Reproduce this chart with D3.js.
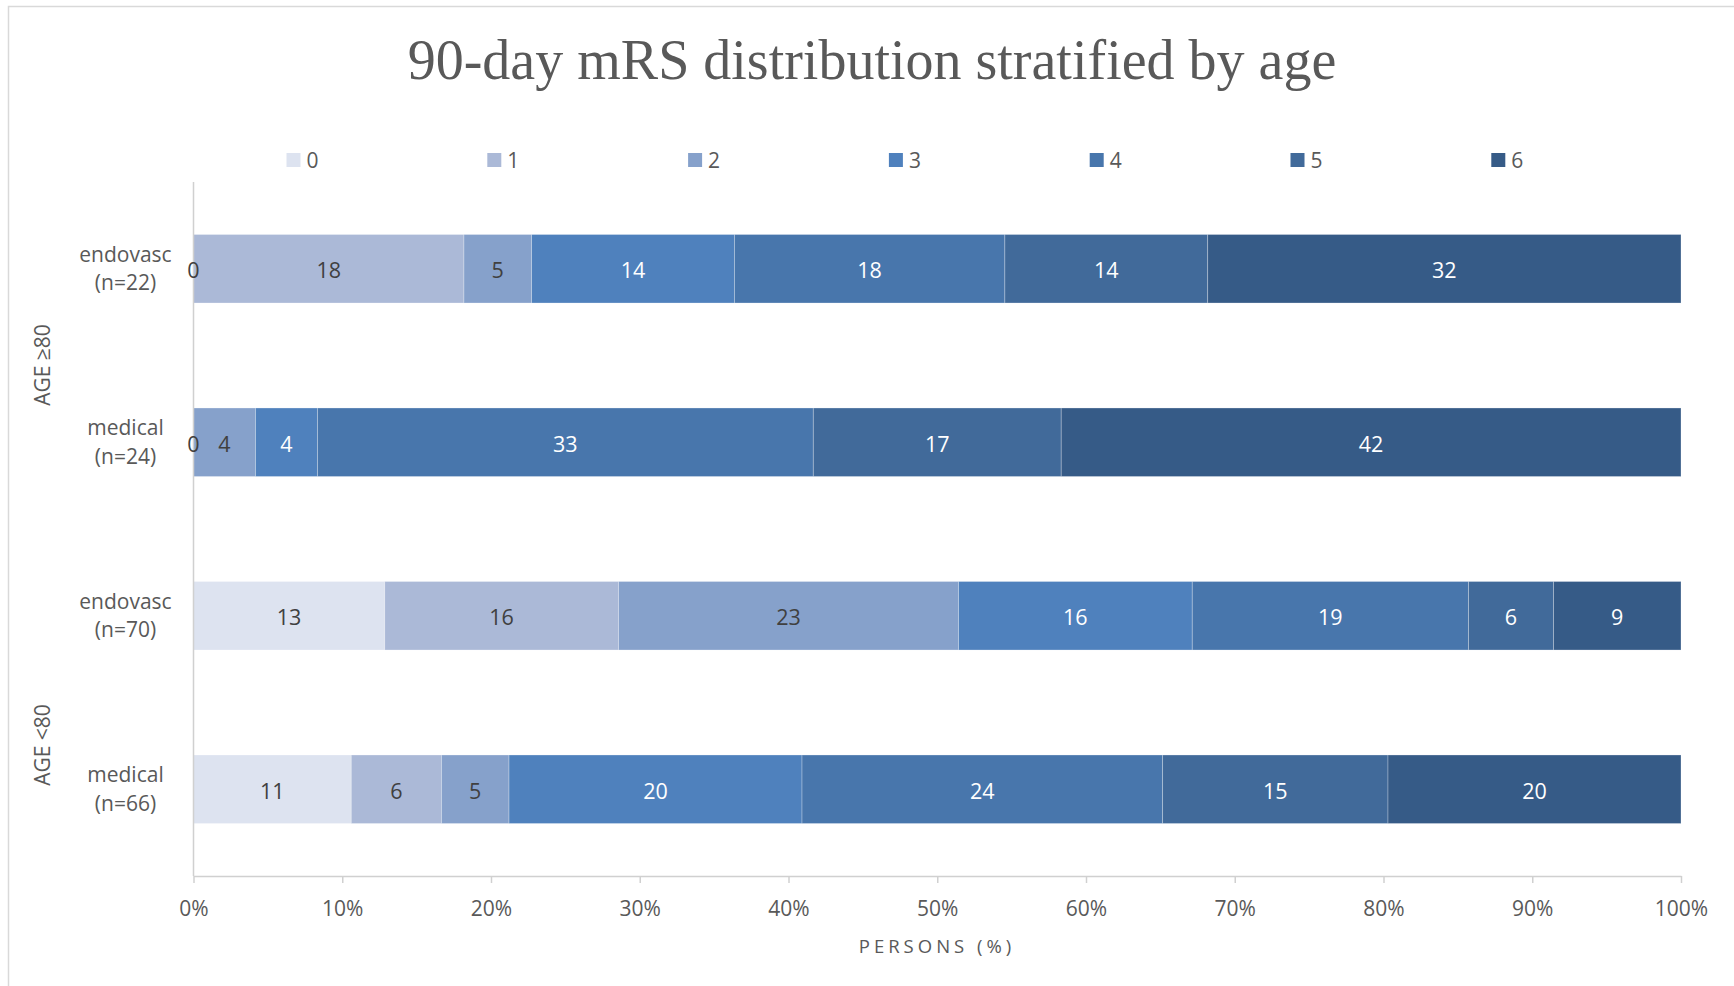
<!DOCTYPE html>
<html>
<head>
<meta charset="utf-8">
<script src="https://cdn.jsdelivr.net/npm/d3@7/dist/d3.min.js"></script>
<style>
  html, body { margin: 0; padding: 0; background: #ffffff; }
  svg { display: block; }
  text { font-family: "Open Sans", "Noto Sans", sans-serif; }
</style>
</head>
<body>
<svg id="chart" width="1734" height="986"></svg>
<script>
// 90-day modified Rankin Scale outcomes, patient counts per treatment arm
const groups = ["AGE ≥80", "AGE <80"];
const arms = ["endovasc", "medical", "endovasc", "medical"];
const armN = [22, 24, 70, 66];
const armGroup = [0, 0, 1, 1];
const mrsLevels = ["0", "1", "2", "3", "4", "5", "6"];

const count0 = [0, 0, 9, 7];
const count1 = [4, 0, 11, 4];
const count2 = [1, 1, 16, 3];
const count3 = [3, 1, 11, 13];
const count4 = [4, 8, 13, 16];
const count5 = [3, 4, 4, 10];
const count6 = [7, 10, 6, 13];

const xTicks = [0, 0.1, 0.2, 0.3, 0.4, 0.5, 0.6, 0.7, 0.8, 0.9, 1.0];

const mrsColors = ["#dde3f0", "#abb9d7", "#86a1cb", "#4f81bd", "#4876ac", "#416a9a", "#365b87"];
const darkLabel = [true, true, true, false, false, false, false];

const counts = [count0, count1, count2, count3, count4, count5, count6];
const rowKeys = arms.map((a, i) => "r" + i);
const table = rowKeys.map((k, i) => {
  const o = { key: k, n: armN[i] };
  mrsLevels.forEach((m, j) => { o[m] = counts[j][i]; });
  return o;
});

const svg = d3.select("#chart");
const textGray = "#595959";
const axisGray = "#d0d0d0";

// outer chart frame
svg.append("rect")
  .attr("x", 8.5).attr("y", 6.5)
  .attr("width", 1800).attr("height", 1100)
  .attr("fill", "none").attr("stroke", "#d9d9d9").attr("stroke-width", 1.5);

// title
svg.append("text")
  .attr("x", 872).attr("y", 79)
  .attr("text-anchor", "middle")
  .style("font-family", "'Liberation Serif', 'DejaVu Serif', serif")
  .style("font-size", "56px")
  .attr("fill", textGray)
  .text("90-day mRS distribution stratified by age");

// legend
const legend = svg.append("g");
mrsLevels.forEach((m, i) => {
  const lx = 286.5 + i * 200.8;
  legend.append("rect")
    .attr("x", lx).attr("y", 153).attr("width", 14).attr("height", 14)
    .attr("fill", mrsColors[i]);
  legend.append("text")
    .attr("x", lx + 20).attr("y", 167.5)
    .style("font-size", "21px")
    .attr("fill", textGray)
    .text(m);
});

// scales
const plotLeft = 193.5, plotRight = 1681, plotTop = 182, plotBottom = 876;
const x = d3.scaleLinear().domain([0, 1]).range([plotLeft, plotRight]);
const y = d3.scaleBand().domain(rowKeys).range([plotTop, plotBottom])
  .paddingInner(0.605).paddingOuter(0.3025);

const stack = d3.stack().keys(mrsLevels).offset(d3.stackOffsetExpand);
const series = stack(table);

// bars
const barG = svg.append("g");
series.forEach((s, si) => {
  barG.selectAll(null)
    .data(s)
    .join("rect")
    .attr("x", d => x(d[0]))
    .attr("y", d => y(d.data.key))
    .attr("width", d => Math.max(0, x(d[1]) - x(d[0])))
    .attr("height", y.bandwidth())
    .attr("fill", mrsColors[si])
    .attr("stroke", "rgba(255,255,255,0.35)")
    .attr("stroke-width", 0.8);
});

// x axis
const xAxis = d3.axisBottom(x)
  .tickValues(xTicks)
  .tickFormat(d3.format(".0%"))
  .tickSizeOuter(0)
  .tickSizeInner(7)
  .tickPadding(18);
const axG = svg.append("g")
  .attr("transform", `translate(0,${plotBottom})`)
  .call(xAxis);
axG.select(".domain").attr("stroke", axisGray).attr("stroke-width", 1.5);
axG.selectAll(".tick line").attr("stroke", axisGray).attr("stroke-width", 1.5);
axG.selectAll(".tick text")
  .attr("fill", textGray)
  .style("font-family", "'Open Sans', sans-serif")
  .style("font-size", "21px");

// vertical category axis line
svg.append("line")
  .attr("x1", plotLeft).attr("x2", plotLeft)
  .attr("y1", plotTop).attr("y2", plotBottom)
  .attr("stroke", axisGray).attr("stroke-width", 1.5);

// axis title
svg.append("text")
  .attr("x", 937).attr("y", 953)
  .attr("text-anchor", "middle")
  .style("font-size", "18.5px")
  .style("letter-spacing", "4px")
  .attr("fill", textGray)
  .text("PERSONS (%)");

// data labels: rounded percentage of each arm
const labelG = svg.append("g");
const zeroDone = new Set();
series.forEach((s, si) => {
  s.forEach((d, ri) => {
    const pct = Math.round((d[1] - d[0]) * 100);
    const cx = (x(d[0]) + x(d[1])) / 2;
    if (pct === 0) {
      const k = d.data.key + "@" + Math.round(cx);
      if (zeroDone.has(k)) return;
      zeroDone.add(k);
    }
    labelG.append("text")
      .attr("x", cx)
      .attr("y", y(d.data.key) + y.bandwidth() / 2 + 9.5)
      .attr("text-anchor", "middle")
      .style("font-size", "21.5px")
      .attr("fill", (darkLabel[si] || pct === 0) ? "#404040" : "#ffffff")
      .text(pct);
  });
});

// category labels (arm and sample size)
const catG = svg.append("g");
rowKeys.forEach((k, i) => {
  const cy = y(k) + y.bandwidth() / 2;
  const t = catG.append("text")
    .attr("text-anchor", "middle")
    .style("font-size", "21px")
    .attr("fill", textGray);
  t.append("tspan").attr("x", 125.5).attr("y", cy - 7).text(arms[i]);
  t.append("tspan").attr("x", 125.5).attr("y", cy + 21.5).text(`(n=${armN[i]})`);
});

// age group labels
const groupCenters = [365, 745];
groups.forEach((g, gi) => {
  svg.append("text")
    .attr("transform", `translate(50,${groupCenters[gi]}) rotate(-90)`)
    .attr("text-anchor", "middle")
    .style("font-size", "21px")
    .attr("fill", textGray)
    .text(g);
});
</script>
</body>
</html>
